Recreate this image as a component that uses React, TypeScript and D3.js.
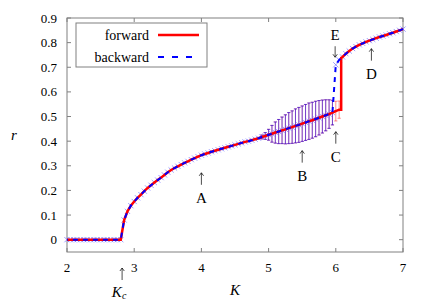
import React from 'react';
import * as d3 from 'd3';

// lower branch, K = 2.00 .. 6.05 step 0.05
const kLower = [
  2.0, 2.05, 2.1, 2.15, 2.2, 2.25, 2.3, 2.35, 2.4, 2.45, 2.5, 2.55, 2.6, 2.65, 2.7, 2.75, 2.8,
  2.85, 2.9, 2.95, 3.0, 3.05, 3.1, 3.15, 3.2, 3.25, 3.3, 3.35, 3.4, 3.45, 3.5, 3.55, 3.6, 3.65,
  3.7, 3.75, 3.8, 3.85, 3.9, 3.95, 4.0, 4.05, 4.1, 4.15, 4.2, 4.25, 4.3, 4.35, 4.4, 4.45, 4.5,
  4.55, 4.6, 4.65, 4.7, 4.75, 4.8, 4.85, 4.9, 4.95, 5.0, 5.05, 5.1, 5.15, 5.2, 5.25, 5.3, 5.35,
  5.4, 5.45, 5.5, 5.55, 5.6, 5.65, 5.7, 5.75, 5.8, 5.85, 5.9, 5.95, 6.0, 6.05,
];
const rLower = [
  0, 0, 0, 0, 0, 0, 0, 0, 0, 0, 0, 0, 0, 0, 0, 0, 0,
  0.08, 0.115, 0.138, 0.155, 0.17, 0.183, 0.197, 0.21, 0.221, 0.232, 0.242, 0.252, 0.263, 0.274, 0.283, 0.291, 0.298,
  0.305, 0.312, 0.318, 0.325, 0.331, 0.337, 0.343, 0.348, 0.352, 0.357, 0.361, 0.365, 0.369, 0.373, 0.377, 0.381, 0.385,
  0.389, 0.393, 0.397, 0.4, 0.404, 0.408, 0.412, 0.417, 0.421, 0.426, 0.43, 0.435, 0.439, 0.444, 0.448, 0.453, 0.457,
  0.462, 0.466, 0.471, 0.476, 0.481, 0.485, 0.49, 0.495, 0.5, 0.505, 0.51, 0.516, 0.522, 0.528,
];

// upper branch, K = 6.10 .. 7.00
const kUpper = [6.1, 6.15, 6.2, 6.25, 6.3, 6.35, 6.4, 6.45, 6.5, 6.55, 6.6, 6.65, 6.7, 6.75, 6.8, 6.85, 6.9, 6.95, 7.0];
const rUpper = [0.742, 0.755, 0.766, 0.776, 0.784, 0.791, 0.797, 0.803, 0.808, 0.813, 0.818, 0.823, 0.827, 0.831, 0.836, 0.84, 0.845, 0.85, 0.855];

// forward sweep jumps up here
const forwardJumpK = [6.08, 6.08];
const forwardJumpR = [0.528, 0.738];

// backward sweep stays on the upper branch a little longer
const backwardExtraK = [6.05, 6.0];
const backwardExtraR = [0.73, 0.71];

// error bars (half-widths) in the bistable region
const errK = [4.9, 4.95, 5.0, 5.05, 5.1, 5.15, 5.2, 5.25, 5.3, 5.35, 5.4, 5.45, 5.5, 5.55, 5.6, 5.65, 5.7, 5.75, 5.8, 5.85, 5.9, 5.95, 6.0, 6.05];
const errDy = [0.008, 0.014, 0.022, 0.034, 0.043, 0.049, 0.054, 0.059, 0.063, 0.066, 0.069, 0.071, 0.072, 0.073, 0.074, 0.073, 0.072, 0.07, 0.067, 0.063, 0.058, 0.05, 0.04, 0.035];

const xTicks = [2, 3, 4, 5, 6, 7];
const yTicks = [0, 0.1, 0.2, 0.3, 0.4, 0.5, 0.6, 0.7, 0.8, 0.9];

const notes = [
  { label: 'A', k: 4.0, r: 0.17, dir: 'up' },
  { label: 'B', k: 5.5, r: 0.26, dir: 'up' },
  { label: 'C', k: 6.0, r: 0.337, dir: 'up' },
  { label: 'D', k: 6.53, r: 0.674, dir: 'up' },
  { label: 'E', k: 5.99, r: 0.83, dir: 'down' },
];
const kc = 2.82;

type Pt = [number, number];

const zip = (ks: number[], rs: number[]): Pt[] => ks.map((k, i) => [k, rs[i]]);

const App = () => {
  const width = 432;
  const height = 303;
  const x = d3.scaleLinear().domain([2, 7]).range([67, 403]);
  const y = d3.scaleLinear().domain([-0.05, 0.9]).range([252, 18]);

  const lower = zip(kLower, rLower);
  const upper = zip(kUpper, rUpper);
  const forward: Pt[] = [...lower, ...zip(forwardJumpK, forwardJumpR), ...upper];
  const backward: Pt[] = [
    ...upper.slice().reverse(),
    ...zip(backwardExtraK, backwardExtraR),
    ...lower.filter(p => p[0] < 5.97).reverse(),
  ];

  const line = d3.line<Pt>().x(d => x(d[0])).y(d => y(d[1]));
  const rAt = (k: number) => rLower[kLower.findIndex(v => Math.abs(v - k) < 1e-6)];

  const fontStyle = { fontFamily: "'Liberation Serif', 'Times New Roman', 'DejaVu Serif', serif" };
  const grey = '#808080';
  const [x0, x1] = x.range();
  const [yb, yt] = y.range();

  const cross = (p: Pt, color: string, op: number, key: string) => {
    const cx = x(p[0]);
    const cy = y(p[1]);
    const s = 2.6;
    return (
      <path key={key} d={`M${cx - s},${cy - s}L${cx + s},${cy + s}M${cx - s},${cy + s}L${cx + s},${cy - s}`}
        stroke={color} strokeOpacity={op} strokeWidth={1} />
    );
  };

  const errBar = (k: number, dy: number, color: string, op: number, key: string) => {
    const r = rAt(k);
    const cx = x(k);
    const ya = y(r + dy);
    const yb2 = y(r - dy);
    const c = 1.6;
    return (
      <path key={key} d={`M${cx},${ya}L${cx},${yb2}M${cx - c},${ya}L${cx + c},${ya}M${cx - c},${yb2}L${cx + c},${yb2}`}
        stroke={color} strokeOpacity={op} strokeWidth={1} fill="none" />
    );
  };

  return (
    <svg width={width} height={height} style={{ position: 'absolute', left: 0, top: 0, background: '#fff' }}>
      {/* frame */}
      <rect x={x0} y={yt} width={x1 - x0} height={yb - yt} fill="none" stroke={grey} strokeWidth={1} />
      {xTicks.map(t => (
        <g key={`xt${t}`}>
          <line x1={x(t)} x2={x(t)} y1={yb} y2={yb - 4} stroke={grey} />
          <line x1={x(t)} x2={x(t)} y1={yt} y2={yt + 4} stroke={grey} />
          <text x={x(t)} y={267} textAnchor="middle" dominantBaseline="central" style={fontStyle} fontSize={13}>{t}</text>
        </g>
      ))}
      {yTicks.map(t => (
        <g key={`yt${t}`}>
          <line x1={x0} x2={x0 + 4} y1={y(t)} y2={y(t)} stroke={grey} />
          <line x1={x1} x2={x1 - 4} y1={y(t)} y2={y(t)} stroke={grey} />
          <text x={57} y={y(t)} textAnchor="end" dominantBaseline="central" style={fontStyle} fontSize={13}>{t === 0 ? '0' : d3.format('.1f')(t)}</text>
        </g>
      ))}

      {/* axis labels */}
      <text x={14} y={135} textAnchor="middle" dominantBaseline="central" style={fontStyle} fontSize={15} fontStyle="italic">r</text>
      <text x={235} y={290} textAnchor="middle" dominantBaseline="central" style={fontStyle} fontSize={15} fontStyle="italic">K</text>

      {/* error bars */}
      {errK.map((k, i) => errBar(k, errDy[i], '#ff0000', 0.45, `ef${i}`))}
      {errK.filter(k => k < 5.97).map((k, i) => errBar(k, errDy[i], '#0000ff', 0.55, `eb${i}`))}

      {/* markers */}
      {backward.map((p, i) => cross(p, '#7878ff', 0.75, `mb${i}`))}

      {/* curves */}
      <path d={line(forward) || ''} fill="none" stroke="#ff0000" strokeWidth={2.5} strokeLinejoin="miter" />
      <path d={line(backward) || ''} fill="none" stroke="#0000ff" strokeWidth={2} strokeDasharray="5,5" />

      {/* annotations */}
      {notes.map(n => {
        const cx = x(n.k);
        const cy = y(n.r);
        const a = n.dir === 'up' ? cy - 25 : cy + 22;
        const b = n.dir === 'up' ? cy - 13 : cy + 11;
        const h = n.dir === 'up' ? 3 : -3;
        return (
          <g key={n.label}>
            <line x1={cx} x2={cx} y1={a} y2={b} stroke="#000" strokeWidth={0.7} />
            <path d={`M${cx - 2.2},${a + h}L${cx},${a}L${cx + 2.2},${a + h}`} fill="none" stroke="#000" strokeWidth={0.7} />
            <text x={cx} y={cy} textAnchor="middle" dominantBaseline="central" style={fontStyle} fontSize={15}>{n.label}</text>
          </g>
        );
      })}
      <g>
        <line x1={x(kc)} x2={x(kc)} y1={268} y2={280} stroke="#000" strokeWidth={0.7} />
        <path d={`M${x(kc) - 2.2},${271}L${x(kc)},${268}L${x(kc) + 2.2},${271}`} fill="none" stroke="#000" strokeWidth={0.7} />
        <text x={x(kc) - 3} y={292} textAnchor="middle" dominantBaseline="central" style={fontStyle} fontSize={15} fontStyle="italic">
          K<tspan fontSize={10} dy={3}>c</tspan>
        </text>
      </g>

      {/* legend */}
      <rect x={76} y={23} width={131} height={44} fill="#fff" stroke={grey} strokeWidth={1} />
      <text x={149} y={35} textAnchor="end" dominantBaseline="central" style={fontStyle} fontSize={14}>forward</text>
      <line x1={158} x2={199} y1={35} y2={35} stroke="#ff0000" strokeWidth={2.5} />
      <text x={149} y={57} textAnchor="end" dominantBaseline="central" style={fontStyle} fontSize={14}>backward</text>
      <line x1={158} x2={199} y1={57} y2={57} stroke="#0000ff" strokeWidth={2} strokeDasharray="6,8" />
    </svg>
  );
};

export default App;
